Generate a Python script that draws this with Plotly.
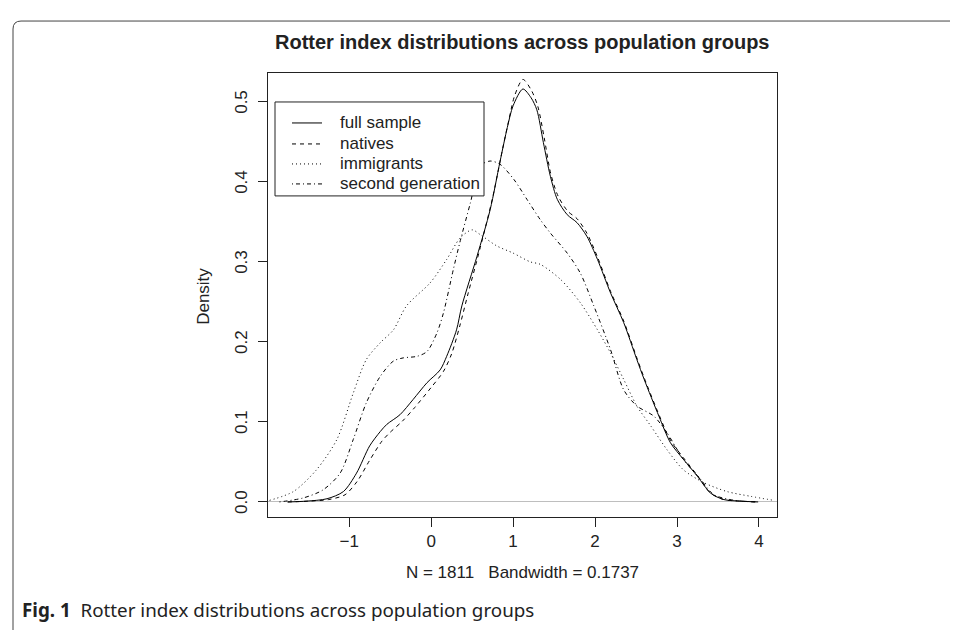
import plotly.graph_objects as go

# ---------------- data ----------------
full_x = [-1.75, -1.52, -1.27, -1.07, -0.91, -0.75, -0.62, -0.54, -0.38, -0.22, -0.05, 0.11, 0.19, 0.31,
          0.375, 0.56, 0.72, 0.84, 0.93, 1.0, 1.12, 1.22, 1.29, 1.37, 1.455, 1.54, 1.66, 1.78, 1.90, 2.03,
          2.19, 2.35, 2.51, 2.60, 2.78, 2.92, 3.08, 3.25, 3.41, 3.57, 3.78, 3.99]
full_y = [0.0, 0.001, 0.004, 0.013, 0.036, 0.070, 0.088, 0.097, 0.109, 0.128, 0.149, 0.165, 0.182, 0.215,
          0.245, 0.307, 0.365, 0.425, 0.468, 0.495, 0.516, 0.505, 0.49, 0.449, 0.407, 0.378, 0.359, 0.349,
          0.332, 0.303, 0.261, 0.224, 0.178, 0.153, 0.107, 0.074, 0.053, 0.032, 0.011, 0.003, 0.001, 0.0]

natives_x = [-1.75, -1.5, -1.25, -1.05, -0.9, -0.75, -0.6, -0.5, -0.35, -0.2, 0.0, 0.15, 0.25, 0.35, 0.45,
             0.6, 0.75, 0.87, 0.95, 1.02, 1.12, 1.22, 1.30, 1.38, 1.46, 1.55, 1.67, 1.78, 1.90, 2.03, 2.19,
             2.35, 2.51, 2.60, 2.78, 2.92, 3.08, 3.25, 3.41, 3.57, 3.78, 3.99]
natives_y = [0.0, 0.001, 0.003, 0.009, 0.026, 0.052, 0.076, 0.087, 0.101, 0.118, 0.143, 0.163, 0.185, 0.22,
             0.26, 0.318, 0.38, 0.44, 0.478, 0.508, 0.528, 0.515, 0.495, 0.455, 0.41, 0.382, 0.363, 0.354,
             0.336, 0.306, 0.263, 0.226, 0.18, 0.155, 0.109, 0.077, 0.055, 0.033, 0.011, 0.003, 0.001, 0.0]

immig_x = [-1.97, -1.68, -1.40, -1.15, -0.95, -0.79, -0.62, -0.46, -0.30, -0.01, 0.19, 0.355, 0.50, 0.60,
           0.80, 1.0, 1.21, 1.33, 1.58, 1.82, 2.03, 2.19, 2.35, 2.51, 2.68, 2.88, 3.08, 3.33, 3.61, 3.90, 4.18]
immig_y = [0.002, 0.013, 0.04, 0.078, 0.136, 0.178, 0.199, 0.215, 0.245, 0.274, 0.303, 0.33, 0.34, 0.334,
           0.32, 0.311, 0.30, 0.297, 0.278, 0.249, 0.215, 0.186, 0.153, 0.12, 0.095, 0.065, 0.04, 0.024,
           0.013, 0.007, 0.002]

second_x = [-1.85, -1.56, -1.32, -1.11, -0.95, -0.79, -0.62, -0.46, -0.34, -0.17, -0.05, 0.07, 0.15, 0.27,
            0.35, 0.48, 0.60, 0.72, 0.84, 1.01, 1.17, 1.33, 1.455, 1.66, 1.82, 1.985, 2.19, 2.35, 2.51, 2.72,
            2.88, 3.08, 3.29, 3.45, 3.70, 3.95]
second_y = [0.0, 0.005, 0.015, 0.036, 0.078, 0.124, 0.157, 0.176, 0.18, 0.182, 0.188, 0.211, 0.236, 0.29,
            0.324, 0.374, 0.42, 0.426, 0.422, 0.403, 0.378, 0.353, 0.336, 0.311, 0.286, 0.245, 0.19, 0.14,
            0.12, 0.107, 0.086, 0.053, 0.028, 0.009, 0.002, 0.0]

series_names = ["full sample", "natives", "immigrants", "second generation"]
x_ticks = [-1, 0, 1, 2, 3, 4]
y_ticks = [0.0, 0.1, 0.2, 0.3, 0.4, 0.5]

title_text = "Rotter index distributions across population groups"
xlabel_text = "N = 1811\u00a0\u00a0\u00a0Bandwidth = 0.1737"
ylabel_text = "Density"
caption_bold = "Fig. 1"
caption_text = "Rotter index distributions across population groups"

# ---------------- figure ----------------
OFF = 8  # page body margin
W, H = 958 - OFF, 630 - OFF
L, R, T, B = 268 - OFF, 777 - OFF, 73 - OFF, 517.3 - OFF


def px(x):
    return (x - OFF - L) / (R - L)


def py(y):
    return (B - (y - OFF)) / (B - T)


dashes = ["solid", "4px,4px", "1px,3px", "1px,3px,4px,3px"]
xs = [full_x, natives_x, immig_x, second_x]
ys = [full_y, natives_y, immig_y, second_y]

fig = go.Figure()
for name, x, y, d in zip(series_names, xs, ys, dashes):
    fig.add_trace(go.Scatter(x=x, y=y, mode="lines", name=name,
                             line=dict(color="black", width=1, dash=d, shape="spline", smoothing=0.8)))

FONT = "Liberation Sans, Arial, sans-serif"
axis_font = dict(family=FONT, size=17, color="#222")

fig.update_layout(
    width=W, height=H,
    margin=dict(l=L, r=W - R, t=T, b=H - B),
    paper_bgcolor="white", plot_bgcolor="white",
    showlegend=False,
    xaxis=dict(range=[-1.99, 4.22], tickvals=x_ticks, ticks="outside", ticklen=9,
               tickcolor="#222", showline=True, linecolor="#222", linewidth=1, mirror=True,
               showgrid=False, zeroline=False, tickfont=axis_font,
               title=dict(text=xlabel_text, font=axis_font, standoff=15)),
    yaxis=dict(range=[-0.0188, 0.536], tickvals=y_ticks, ticks="outside", ticklen=9,
               tickcolor="#222", showline=True, linecolor="#222", linewidth=1, mirror=True,
               showgrid=False, zeroline=True, zerolinecolor="#bebebe", zerolinewidth=1,
               showticklabels=False),
)

# y tick labels, rotated like R's default (parallel to the axis)
for v in y_ticks:
    fig.add_annotation(text=f"{v:.1f}", xref="paper", yref="y", x=px(242), y=v,
                       xanchor="center", yanchor="middle", textangle=-90, showarrow=False, font=axis_font)

# y-axis title
fig.add_annotation(text=ylabel_text, xref="paper", yref="paper", x=px(204), y=py(297),
                   xanchor="center", yanchor="middle", textangle=-90, showarrow=False, font=axis_font)

# legend (box, line samples, labels)
fig.add_shape(type="rect", xref="paper", yref="paper", x0=px(275), x1=px(484), y0=py(102), y1=py(196),
              line=dict(color="#222", width=1), fillcolor="white", layer="above")
leg_y = [123, 144, 164, 184]
for name, d, yy in zip(series_names, dashes, leg_y):
    fig.add_shape(type="line", xref="paper", yref="paper", x0=px(292), x1=px(322), y0=py(yy), y1=py(yy),
                  line=dict(color="black", width=1, dash=d), layer="above")
    fig.add_annotation(text=name, xref="paper", yref="paper", x=px(338), y=py(yy),
                       xanchor="left", yanchor="middle", showarrow=False, font=axis_font)

# title
fig.add_annotation(text="<b>" + title_text + "</b>", xref="paper", yref="paper",
                   x=px(522), y=py(42), xanchor="center", yanchor="middle", showarrow=False,
                   font=dict(family=FONT, size=20, color="#222"))

# caption
fig.add_annotation(text="<b>" + caption_bold + "</b>\u00a0\u00a0" + caption_text, xref="paper", yref="paper",
                   x=px(20), y=py(610), xanchor="left", yanchor="middle", showarrow=False,
                   font=dict(family="Noto Sans, Open Sans, sans-serif", size=18.8, color="#222"))

# outer frame with rounded corner
r = 8
path = (f"M {px(13)},{py(700)} L {px(13)},{py(21 + r)} "
        f"Q {px(13)},{py(21)} {px(13 + r)},{py(21)} L {px(1000)},{py(21)}")
fig.add_shape(type="path", path=path, xref="paper", yref="paper",
              line=dict(color="#444", width=1))

fig.write_html("out.html")
